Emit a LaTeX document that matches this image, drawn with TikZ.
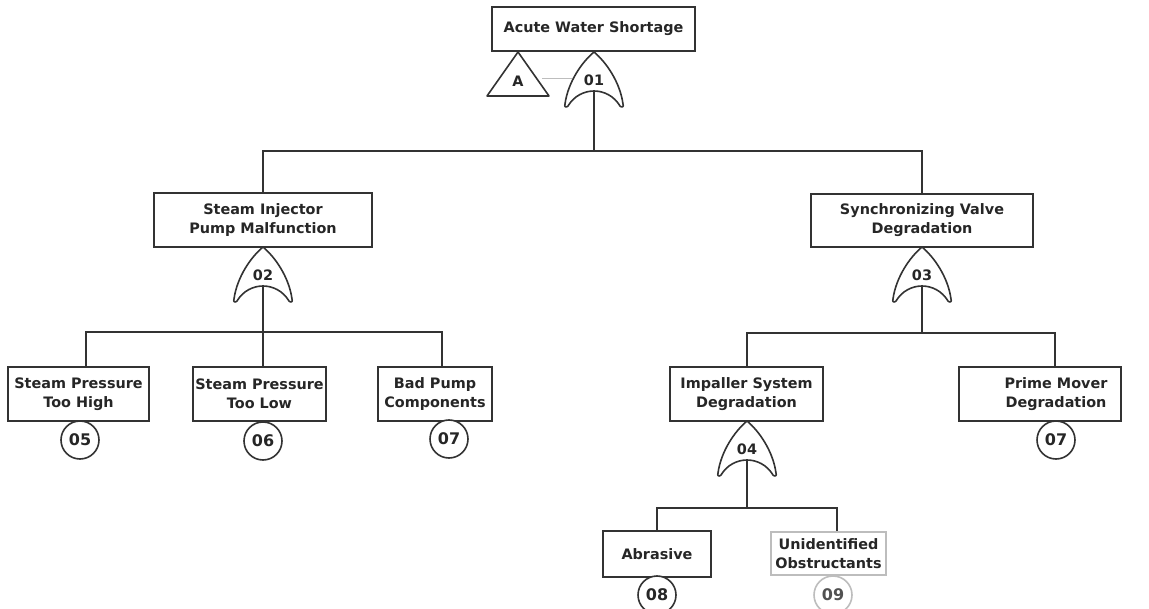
\documentclass[tikz,border=0pt]{standalone}
\usepackage{fontspec}
\setmainfont{DejaVu Sans}
\usetikzlibrary{calc}
\definecolor{lc}{HTML}{333333}
\definecolor{tc}{HTML}{262626}
\definecolor{lg}{HTML}{BDBDBD}
\newcommand\lbl{\fontsize{10.8}{14.3}\selectfont\bfseries}
\newcommand\clbl{\fontsize{12}{14}\selectfont\bfseries}
\tikzset{
  ln/.style={draw=lc, line width=1.2pt},
  link/.style={draw=lg, line width=0.7pt},
  box/.style={draw=lc, line width=1.2pt, fill=white, align=center, font=\lbl, text=tc, inner sep=0pt},
  lbox/.style={box, draw=lg},
  txt/.style={align=center, font=\lbl, text=tc, inner sep=0pt},
  gatest/.style={draw=lc, line width=1.2pt, fill=white, line join=round},
  glbl/.style={font=\lbl, text=tc, inner sep=0pt},
  evt/.style={circle, draw=lc, line width=1.2pt, fill=white, minimum size=28.5pt, inner sep=0pt, font=\clbl, text=tc},
  levt/.style={evt, draw=lg, text=tc!80},
}
\newcommand\orgate[4]{%
  \begin{scope}[shift={(#2,#3)}]
    \draw[gatest] (0,0) .. controls (12,10) and (26,30) .. (29,52)
      .. controls (30,55) and (28,56) .. (26,54)
      .. controls (14,34) and (-14,34) .. (-26,54)
      .. controls (-28,56) and (-30,55) .. (-29,52)
      .. controls (-26,30) and (-12,10) .. (0,0) -- cycle;
    \node[glbl] (#1) at (0,28) {#4};
    \coordinate (#1b) at (0,38);
  \end{scope}}
\begin{document}
\begin{tikzpicture}[x=0.75pt, y=-0.75pt]
\useasboundingbox (0,0) rectangle (1149,609);

% top event
\node[box, minimum width=152.25pt, minimum height=33pt] (top) at (593.5,29) {Acute Water Shortage};

% transfer triangle A
\draw[gatest] (518,52) coordinate (triA) -- (549,96) -- (487,96) -- cycle;
\node[glbl] (A) at (518,81) {A};
\coordinate (aR) at (542,78);
\coordinate (gL) at (572,78);
\draw[link] (aR) -- (gL);

% gate 01
\orgate{g1}{594}{52}{01}
\coordinate (bus1) at (594,151);
\draw[ln] (g1b) -- (bus1);

% level 2
\node[box, minimum width=163.5pt, minimum height=40.5pt] (sipm) at (263,220) {Steam Injector\\Pump Malfunction};
\node[box, minimum width=166.5pt, minimum height=40pt] (svd) at (922,220.5) {Synchronizing Valve\\Degradation};
\draw[ln] (bus1) -| (sipm.north);
\draw[ln] (bus1) -| (svd.north);

% gate 02
\orgate{g2}{263}{247}{02}
\coordinate (bus2) at (263,332);
\draw[ln] (g2b) -- (bus2);

\node[box, minimum width=105.75pt, minimum height=40.5pt] (spth) at (78.5,394) {Steam Pressure\\Too High};
\node[box, minimum width=99.75pt, minimum height=40.5pt] (sptl) at (259.5,394) {Steam Pressure\\Too Low};
\node[box, minimum width=85.5pt, minimum height=40.5pt] (bpc) at (435,394) {Bad Pump\\Components};
\draw[ln] (bus2) -| ($(spth.north)+(7.5,0)$);
\draw[ln] (bus2) -- ($(sptl.north)+(3.5,0)$);
\draw[ln] (bus2) -| ($(bpc.north)+(7,0)$);

\node[evt] (e05) at (80,440) {05};
\node[evt] (e06) at (263,441) {06};
\node[evt] (e07a) at (449,439) {07};

% gate 03
\orgate{g3}{922}{247}{03}
\coordinate (bus3) at (922,333);
\draw[ln] (g3b) -- (bus3);

\node[box, minimum width=114.75pt, minimum height=40.5pt] (isd) at (746.5,394) {Impaller System\\Degradation};
\node[box, minimum width=121.5pt, minimum height=40.5pt] (pmd) at (1040,394) {};
\node[txt] (pmdt) at (1056,394) {Prime Mover\\Degradation};
\draw[ln] (bus3) -| ($(isd.north)+(0.5,0)$);
\draw[ln] (bus3) -| ($(pmd.north)+(15,0)$);
\node[evt] (e07b) at (1056,440) {07};

% gate 04
\orgate{g4}{747}{421}{04}
\coordinate (bus4) at (747,508);
\draw[ln] (g4b) -- (bus4);

\node[box, minimum width=81pt, minimum height=34.5pt] (abr) at (657,554) {Abrasive};
\node[lbox, minimum width=86.25pt, minimum height=32.25pt] (uo) at (828.5,553.5) {Unidentified\\Obstructants};
\draw[ln] (bus4) -| (abr.north);
\draw[ln] (bus4) -| ($(uo.north)+(8.5,0)$);
\node[evt] (e08) at (657,595) {08};
\node[levt] (e09) at (833,595) {09};
\end{tikzpicture}
\end{document}
